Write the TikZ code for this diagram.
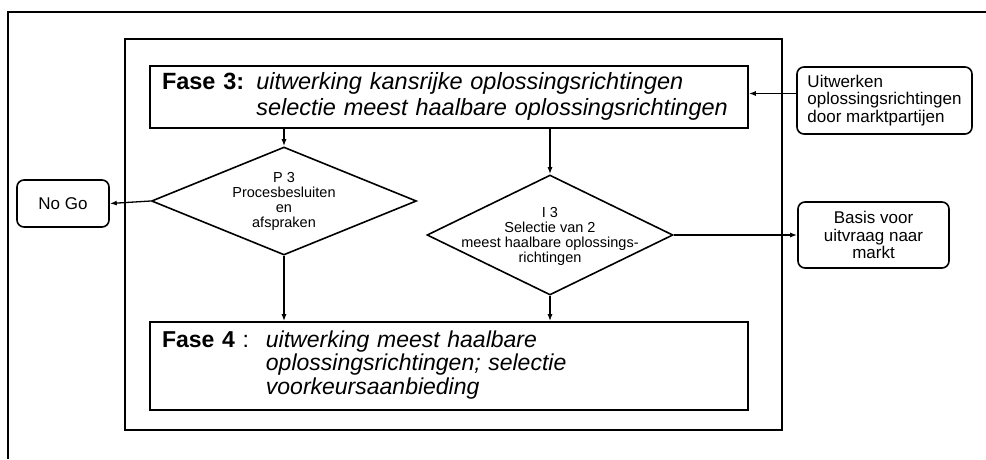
\documentclass[tikz,border=0pt]{standalone}
\usepackage{fontspec}
\setmainfont{Liberation Sans}
\usetikzlibrary{shapes.geometric,arrows.meta}
\begin{document}
\begin{tikzpicture}[x=1pt,y=-1pt,
  line width=1.6pt,
  box/.style={draw,rectangle,inner sep=0pt},
  rbox/.style={draw,rectangle,rounded corners=7pt,inner sep=0pt},
  decision/.style={draw,diamond,inner sep=0pt},
  phase/.style={font=\fontsize{23.5}{26}\selectfont},
  small/.style={font=\fontsize{17}{17.5}\selectfont},
  dtext/.style={font=\fontsize{14.5}{15}\selectfont,align=center,inner sep=0pt},
  flow/.style={-{Latex[length=7pt,width=5pt]},line width=1.3pt},
]
\useasboundingbox (0,0) rectangle (986,459);

% outer frame (top and left edges) and inner frame
\draw (986,12) -- (8,12) -- (8,459);
\draw (125,39) rectangle (782,430);

% phase boxes
\node[box,phase,minimum width=598,minimum height=62,text width=574,inner xsep=12pt,align=left] (f3) at (449,97)
  {\begin{tabular}{@{}l@{\hspace{12pt}}l@{}}\textbf{Fase 3:} & \textit{uitwerking kansrijke oplossingsrichtingen}\\
   & \textit{selectie meest haalbare oplossingsrichtingen}\end{tabular}};
\node[box,font=\fontsize{23}{23}\selectfont,minimum width=598,minimum height=88,text width=574,inner xsep=12pt,align=left] (f4) at (449,366)
  {\begin{tabular}{@{}l@{\hspace{17pt}}l@{}}\textbf{Fase 4} : & \textit{uitwerking meest haalbare}\\
   & \textit{oplossingsrichtingen; selectie}\\
   & \textit{voorkeursaanbieding}\end{tabular}};

% side boxes
\node[rbox,small,minimum width=175,minimum height=67,align=left] (ub) at (884.5,100.5)
  {Uitwerken\\oplossingsrichtingen\\door marktpartijen};
\node[rbox,small,minimum width=92,minimum height=47] (nogo) at (63,203.5) {No Go};
\node[rbox,small,minimum width=151,minimum height=66,align=center] (basis) at (873.5,235)
  {Basis voor\\uitvraag naar\\markt};

% decisions
\node[decision,minimum width=265,minimum height=108] (p3) at (284,201) {};
\node[dtext] (p3t) at (284,201) {P 3\\Procesbesluiten\\en\\afspraken};
\node[decision,minimum width=246,minimum height=120] (i3) at (550,235) {};
\node[dtext] (i3t) at (550,236) {I 3\\Selectie van 2\\meest haalbare oplossings-\\richtingen};

% connectors
\draw[flow] ([yshift=7pt]ub.west) -- ([yshift=7pt]ub.west -| f3.east);
\draw[flow] (f3.south -| p3.north) -- (p3.north);
\draw[flow] (f3.south -| i3.north) -- (i3.north);
\draw[flow] (p3.west) -- (nogo.east);
\draw[flow] (i3.east) -- (basis.west);
\draw[flow] (p3.south) -- (p3.south |- f4.north);
\draw[flow] (i3.south) -- (i3.south |- f4.north);
\end{tikzpicture}
\end{document}
